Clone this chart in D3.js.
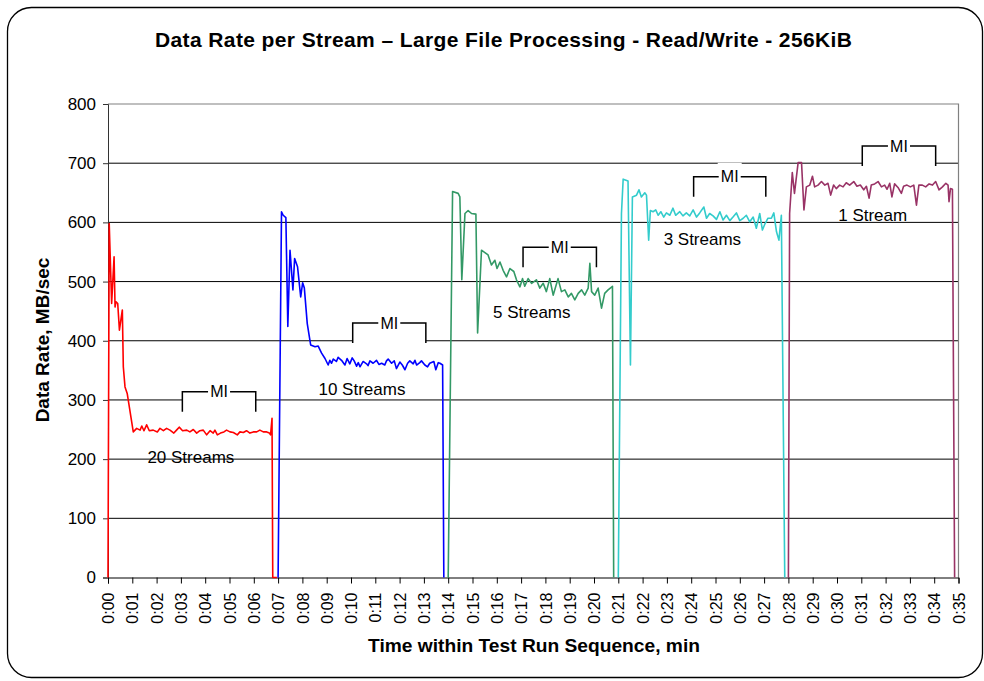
<!DOCTYPE html>
<html>
<head>
<meta charset="utf-8">
<script src="https://cdn.jsdelivr.net/npm/d3@7"></script>
<style>
  body { margin: 0; background: #fff; }
  svg text { font-family: Arial, "Liberation Sans", sans-serif; }
</style>
</head>
<body>
<div id="chart"></div>
<script>
// ---- data: [minute, MB/sec] ----
const red20 = [
  [0,0],[0.05,598],[0.15,463],[0.25,542],[0.29,457],[0.33,466],[0.40,463],[0.47,418],[0.59,452],
  [0.63,356],[0.70,322],[0.79,311],[1.04,246],[1.18,252],[1.32,249],[1.39,256],[1.48,248],[1.59,258],
  [1.70,248],[1.86,249],[2.03,246],[2.14,252],[2.28,248],[2.41,252],[2.55,249],[2.71,244],[2.82,249],
  [2.93,254],[3.07,248],[3.24,249],[3.37,246],[3.51,250],[3.65,244],[3.78,248],[3.92,249],[4.06,241],
  [4.20,248],[4.33,244],[4.40,249],[4.50,241],[4.63,244],[4.77,246],[4.88,249],[5.02,246],[5.16,245],
  [5.32,241],[5.43,246],[5.57,245],[5.70,248],[5.84,244],[5.98,246],[6.12,246],[6.25,249],[6.39,246],
  [6.53,246],[6.64,244],[6.69,241],[6.75,269],[6.78,0],[6.95,0]
];
const blue10 = [
  [7.0,0],[7.14,618],[7.21,612],[7.32,608],[7.40,424],[7.49,553],[7.61,486],[7.68,539],[7.80,525],
  [7.93,474],[8.01,498],[8.08,489],[8.20,429],[8.34,393],[8.52,390],[8.65,391],[8.79,379],[8.93,370],
  [9.06,359],[9.13,367],[9.20,362],[9.27,369],[9.40,365],[9.47,372],[9.61,367],[9.75,359],[9.84,370],
  [9.95,361],[10.05,371],[10.13,366],[10.23,357],[10.30,363],[10.37,356],[10.50,365],[10.64,361],
  [10.70,358],[10.78,366],[10.91,362],[11.05,367],[11.15,360],[11.26,362],[11.39,359],[11.46,366],
  [11.53,369],[11.67,362],[11.78,366],[11.87,353],[12.01,364],[12.11,359],[12.22,351],[12.33,362],
  [12.42,366],[12.56,361],[12.63,367],[12.70,359],[12.83,363],[12.90,366],[13.04,359],[13.15,356],
  [13.24,362],[13.41,365],[13.49,351],[13.59,363],[13.66,362],[13.77,359],[13.82,0]
];
const green5 = [
  [14.0,0],[14.18,652],[14.41,649],[14.48,643],[14.56,503],[14.69,615],[14.82,620],[14.96,615],
  [15.14,614],[15.21,413],[15.37,553],[15.51,549],[15.64,545],[15.78,528],[15.92,536],[16.01,522],
  [16.13,533],[16.26,519],[16.40,508],[16.54,522],[16.70,517],[16.81,503],[16.95,491],[17.06,505],
  [17.15,492],[17.29,505],[17.43,497],[17.63,503],[17.77,489],[17.91,497],[18.04,483],[18.18,505],
  [18.32,477],[18.52,505],[18.66,483],[18.80,486],[18.94,474],[19.07,480],[19.21,469],[19.35,480],
  [19.49,486],[19.62,477],[19.76,489],[19.83,531],[19.90,483],[20.03,477],[20.17,489],[20.31,455],
  [20.44,480],[20.58,486],[20.76,492],[20.81,0]
];
const cyan3 = [
  [21.0,0],[21.13,615],[21.20,673],[21.40,670],[21.50,359],[21.58,643],[21.75,646],[21.85,655],
  [21.95,643],[22.09,650],[22.16,646],[22.25,570],[22.32,620],[22.43,618],[22.54,621],[22.64,612],
  [22.75,618],[22.87,609],[22.98,616],[23.12,612],[23.25,624],[23.36,612],[23.53,618],[23.66,611],
  [23.80,616],[23.94,611],[24.08,621],[24.22,609],[24.35,616],[24.52,626],[24.63,607],[24.76,615],
  [24.90,611],[25.04,605],[25.18,618],[25.31,604],[25.45,612],[25.59,603],[25.72,609],[25.86,616],
  [26.00,603],[26.14,607],[26.27,612],[26.41,601],[26.55,609],[26.68,590],[26.82,615],[26.93,587],
  [27.02,596],[27.16,607],[27.30,607],[27.40,616],[27.51,584],[27.61,570],[27.71,612],[27.85,0]
];
const magenta1 = [
  [28.0,0],[28.05,615],[28.16,684],[28.25,649],[28.40,701],[28.54,701],[28.64,621],[28.74,660],
  [28.88,663],[28.99,678],[29.08,660],[29.22,663],[29.36,669],[29.50,663],[29.63,666],[29.74,646],
  [29.86,663],[29.97,657],[30.11,663],[30.25,660],[30.38,667],[30.52,663],[30.69,669],[30.82,661],
  [30.96,663],[31.10,655],[31.21,661],[31.32,641],[31.41,663],[31.55,665],[31.69,669],[31.83,660],
  [31.96,663],[32.06,656],[32.17,666],[32.26,643],[32.37,665],[32.51,659],[32.65,649],[32.74,661],
  [32.88,663],[33.02,660],[33.16,663],[33.27,629],[33.37,663],[33.51,663],[33.65,660],[33.79,665],
  [33.93,663],[34.06,669],[34.20,655],[34.34,660],[34.48,666],[34.57,663],[34.61,635],[34.67,657],
  [34.75,656],[34.84,0]
];

const seriesData = [red20, blue10, green5, cyan3, magenta1];
const seriesColors = ["#FF0000", "#0000FF", "#339966", "#33CCCC", "#993366"];

// labels beside each run
const labelText = ["20 Streams", "10 Streams", "5 Streams", "3 Streams", "1 Stream"];
const labelX = [3.41, 10.45, 17.44, 24.46, 31.47];
const labelY = [204, 318, 448, 571, 612];

// "MI" brackets (measurement interval)
const miStart = [3.06, 10.07, 17.08, 24.10, 31.04];
const miEnd = [6.08, 13.08, 20.10, 27.07, 34.06];
const miLevel = [314, 430, 558, 677, 729];

const yTicks = [0, 100, 200, 300, 400, 500, 600, 700, 800];
const xTicks = d3.range(0, 36);

const W = 984, H = 681;
const mLeft = 108, mRight = 958.5, mTop = 104, mBottom = 577.5;

const svg = d3.select("#chart").append("svg")
  .attr("width", W).attr("height", H);

// outer frame
svg.append("rect")
  .attr("x", 7.5).attr("y", 7.5)
  .attr("width", 975).attr("height", 670)
  .attr("rx", 24).attr("ry", 24)
  .attr("fill", "#fff").attr("stroke", "#000").attr("stroke-width", 1.3);

const x = d3.scaleLinear().domain([0, 35]).range([mLeft, mRight]);
const y = d3.scaleLinear().domain([0, 800]).range([mBottom, mTop]);

// title
svg.append("text")
  .attr("x", 503.5).attr("y", 47)
  .attr("text-anchor", "middle")
  .attr("font-size", "21px").attr("font-weight", "bold")
  .attr("textLength", 697).attr("lengthAdjust", "spacing")
  .text("Data Rate per Stream \u2013 Large File Processing - Read/Write - 256KiB");

// gridlines
svg.append("g").selectAll("line")
  .data(yTicks.filter(d => d > 0 && d < 800))
  .join("line")
  .attr("x1", mLeft).attr("x2", mRight)
  .attr("y1", d => y(d)).attr("y2", d => y(d))
  .attr("stroke", "#000").attr("stroke-width", 1);

// plot border (top + right), grey
svg.append("path")
  .attr("d", `M${mLeft},${mTop}H${mRight}V${mBottom}`)
  .attr("fill", "none").attr("stroke", "#808080").attr("stroke-width", 1.2);

// y axis
const yAxis = svg.append("g")
  .attr("transform", `translate(${mLeft},0)`)
  .call(d3.axisLeft(y).tickValues(yTicks).tickSize(5).tickPadding(7));
yAxis.select(".domain").attr("stroke", "#333");
yAxis.selectAll(".tick line").attr("stroke", "#333");
yAxis.selectAll("text")
  .attr("font-size", "17px").attr("fill", "#000")
  .attr("font-family", "Arial, 'Liberation Sans', sans-serif");

// x axis
const xAxis = svg.append("g")
  .attr("transform", `translate(0,${mBottom})`)
  .call(d3.axisBottom(x).tickValues(xTicks).tickSize(6)
    .tickFormat(d => "0:" + String(d).padStart(2, "0")));
xAxis.select(".domain").attr("stroke", "#000");
xAxis.selectAll(".tick line").attr("stroke", "#000");
xAxis.selectAll("text")
  .attr("font-size", "16px").attr("fill", "#000")
  .attr("font-family", "Arial, 'Liberation Sans', sans-serif")
  .attr("transform", "rotate(-90)")
  .attr("text-anchor", "end")
  .attr("x", -15).attr("y", 0).attr("dy", "0.35em");

// axis titles
svg.append("text")
  .attr("x", 534).attr("y", 652)
  .attr("text-anchor", "middle")
  .attr("font-size", "19.2px").attr("font-weight", "bold")
  .text("Time within Test Run Sequence, min");

svg.append("text")
  .attr("transform", "translate(49,340) rotate(-90)")
  .attr("text-anchor", "middle")
  .attr("font-size", "19px").attr("font-weight", "bold")
  .text("Data Rate, MB/sec");

// MI brackets: white box covers gridlines under it
const tick = 20;
const mi = svg.append("g");
miStart.forEach((s, i) => {
  const x0 = x(s), x1 = x(miEnd[i]), yl = y(miLevel[i]);
  const xc = (x0 + x1) / 2;
  mi.append("rect")
    .attr("x", x0).attr("y", yl)
    .attr("width", x1 - x0).attr("height", tick)
    .attr("fill", "#fff");
  mi.append("rect")
    .attr("x", xc - 12).attr("y", yl - 14)
    .attr("width", 24).attr("height", 28)
    .attr("fill", "#fff");
  mi.append("path")
    .attr("d", `M${x0},${yl + tick}V${yl}H${xc - 11}M${xc + 11},${yl}H${x1}V${yl + tick}`)
    .attr("fill", "none").attr("stroke", "#000").attr("stroke-width", 1.5);
  mi.append("text")
    .attr("x", xc).attr("y", yl)
    .attr("dy", "0.35em")
    .attr("text-anchor", "middle")
    .attr("font-size", "16px")
    .text("MI");
});

// series lines
const line = d3.line().x(d => x(d[0])).y(d => y(d[1]));
svg.append("g").selectAll("path")
  .data(seriesData)
  .join("path")
  .attr("d", line)
  .attr("fill", "none")
  .attr("stroke", (d, i) => seriesColors[i])
  .attr("stroke-width", 1.6)
  .attr("stroke-linejoin", "round");

// run labels
svg.append("g").selectAll("text")
  .data(labelText)
  .join("text")
  .attr("x", (d, i) => x(labelX[i]))
  .attr("y", (d, i) => y(labelY[i]))
  .attr("dy", "0.35em")
  .attr("text-anchor", "middle")
  .attr("font-size", "17px")
  .text(d => d);
</script>
</body>
</html>
